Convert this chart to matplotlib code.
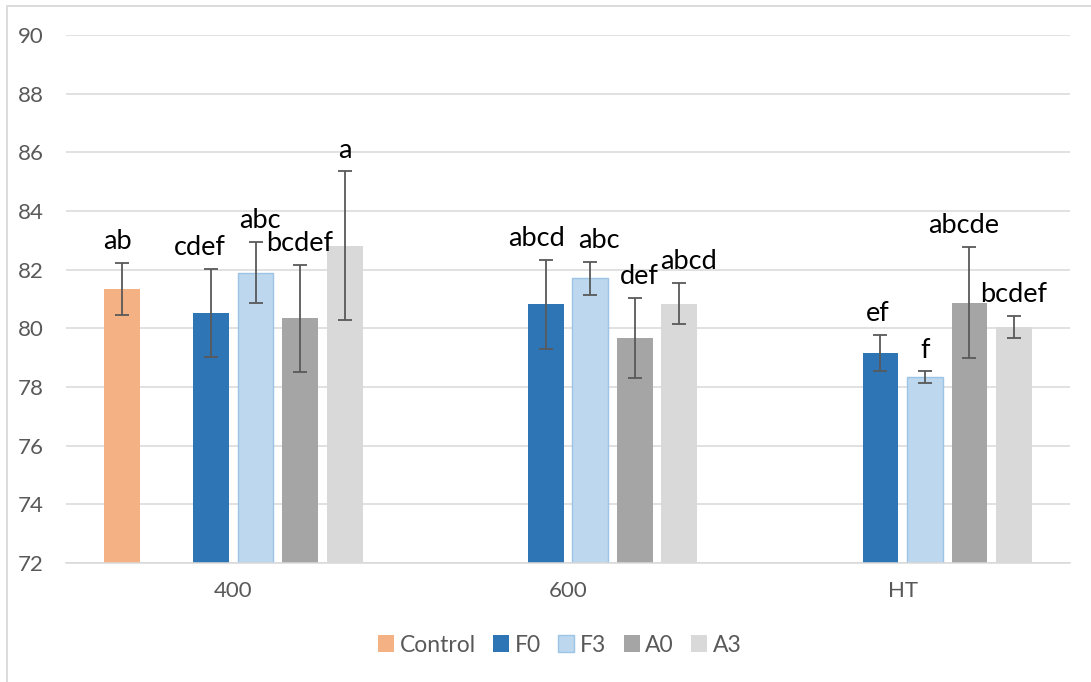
import numpy as np
import matplotlib.pyplot as plt
from matplotlib.patches import Rectangle

# ── Data ─────────────────────────────────────────────────────────────────────
categories = ["400", "600", "HT"]
series     = ["Control", "F0", "F3", "A0", "A3"]
nan = np.nan

values = {
    "Control": [81.35, nan, nan],
    "F0":      [80.52, 80.82, 79.15],
    "F3":      [81.90, 81.70, 78.33],
    "A0":      [80.34, 79.66, 80.88],
    "A3":      [82.82, 80.84, 80.05],
}
errors = {
    "Control": [0.88, nan, nan],
    "F0":      [1.50, 1.52, 0.62],
    "F3":      [1.03, 0.55, 0.20],
    "A0":      [1.83, 1.37, 1.90],
    "A3":      [2.53, 0.70, 0.37],
}
letters = {
    "Control": ["ab", "", ""],
    "F0":      ["cdef", "abcd", "ef"],
    "F3":      ["abc", "abc", "f"],
    "A0":      ["bcdef", "def", "abcde"],
    "A3":      ["a", "abcd", "bcdef"],
}

# ── Style ────────────────────────────────────────────────────────────────────
colors = {"Control": "#F4B183", "F0": "#2E75B6", "F3": "#BDD7EE",
          "A0": "#A5A5A5", "A3": "#D9D9D9"}
edges  = {"Control": "none", "F0": "none", "F3": "#9DC3E6",
          "A0": "none", "A3": "none"}
slot_index = {"Control": 0, "F0": 2, "F3": 3, "A0": 4, "A3": 5}  # slot 1 is empty
slot  = 0.133
width = 0.107

# small sideways nudges of the letter labels (points), as in the original
label_dx = {
    "Control": [-3, 0, 0],
    "F0":      [-8, -7, -2],
    "F3":      [3, 6.5, 0],
    "A0":      [0, 3.5, -4],
    "A3":      [0, 6.5, 0],
}

plt.rcParams["font.family"] = ["Lato", "DejaVu Sans"]

fig = plt.figure(figsize=(10.91, 6.82), dpi=100)
ax = fig.add_axes([66 / 1091, 1 - 563 / 682, 1004 / 1091, 528 / 682])

x = np.arange(len(categories))
for s in series:
    pos = x + (slot_index[s] - 2.5) * slot
    v = np.array(values[s], dtype=float)
    e = np.array(errors[s], dtype=float)
    ax.bar(pos, v - 72, bottom=72, width=width, color=colors[s],
           edgecolor=edges[s], linewidth=1.0, label=s, zorder=2)
    ax.errorbar(pos, v, yerr=e, fmt="none", ecolor="#595959",
                elinewidth=1.3, capsize=5, capthick=1.3, zorder=3)
    for p, val, err, lab, dx in zip(pos, v, e, letters[s], label_dx[s]):
        if lab and np.isfinite(val):
            ax.annotate(lab, (p, val + err), xytext=(dx, 10),
                        textcoords="offset points", ha="center",
                        va="baseline", fontsize=19.5, color="black", zorder=4)

ax.set_xlim(-0.5, 2.5)
ax.set_ylim(72, 90)
ax.set_yticks(np.arange(72, 91, 2))
ax.set_xticks(x)
ax.set_xticklabels(categories)
ax.yaxis.grid(True, color="#D9D9D9", linewidth=1.1, zorder=0)
ax.set_axisbelow(True)
for side in ["top", "right", "left"]:
    ax.spines[side].set_visible(False)
ax.spines["bottom"].set_color("#D9D9D9")
ax.spines["bottom"].set_linewidth(1.1)
ax.tick_params(axis="both", length=0, labelsize=16, colors="#595959")
ax.tick_params(axis="y", pad=16)
ax.tick_params(axis="x", pad=13)

fig.legend(loc="center", bbox_to_anchor=(560 / 1091, 1 - 645 / 682), ncol=5,
           frameon=False, fontsize=16.5, handlelength=0.7, handleheight=0.7,
           handletextpad=0.25, columnspacing=0.75, labelcolor="#595959")

# chart border
fig.add_artist(Rectangle((7 / 1091, -0.01), 1.1, 1 - 6 / 682 + 0.01,
                         transform=fig.transFigure, fill=False,
                         edgecolor="#D9D9D9", linewidth=1.3))

fig.savefig("out.png", dpi=100)
